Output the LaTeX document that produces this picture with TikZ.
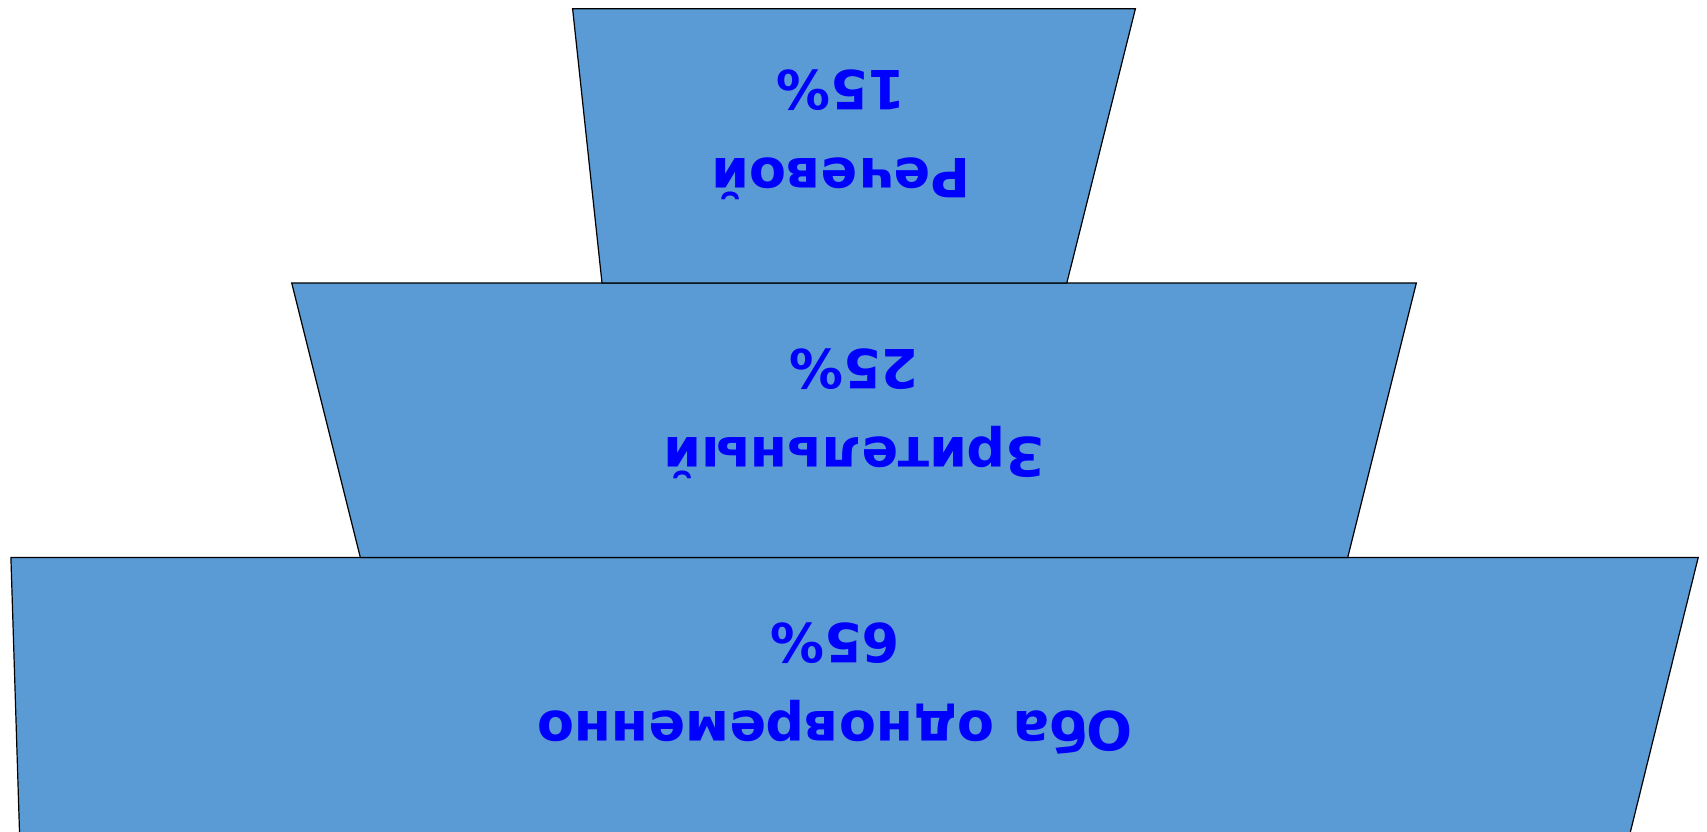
\documentclass[tikz,border=0pt]{standalone}
\usepackage{fontspec}
\usepackage{xcolor}
\usepackage{tikz}
\usetikzlibrary{positioning,calc}
\newfontfamily\sharefont{DejaVu Sans}
\definecolor{layerblue}{HTML}{5B9BD5}
\definecolor{shareblue}{HTML}{0000FF}
\tikzstyle{layer}=[draw=black, fill=layerblue, line width=1.2pt, line join=miter]
\tikzstyle{share}=[text=shareblue, align=center, rotate=180, inner sep=0pt,
font=\sharefont\bfseries\fontsize{54}{88}\selectfont]
\newcommand{\share}[3]{node (t#1)[share]{#2\\#3}}

\begin{document}
\begin{tikzpicture}[x=1pt,y=-1pt]
	\useasboundingbox (0,0) rectangle (1707,831);

	% Draw diagram elements
	\draw[layer] (10.9,557.4) -- (1698.2,557.4) -- (1629.6,835) -- (19.6,835) -- cycle;
	\draw[layer] (291.7,283) -- (1416.3,283) -- (1347.7,557.4) -- (360.3,557.4) -- cycle;
	\draw[layer] (572.6,8.7) -- (1135.4,8.7) -- (1066.8,283) -- (602,283) -- cycle;

	% Draw texts of the layers
	\path (841,135) \share{1}{Речевой}{15\%};
	\path (854,414) \share{2}{Зрительный}{25\%};
	\path (835,689) \share{3}{Оба одновременно}{65\%};
\end{tikzpicture}
\end{document}
